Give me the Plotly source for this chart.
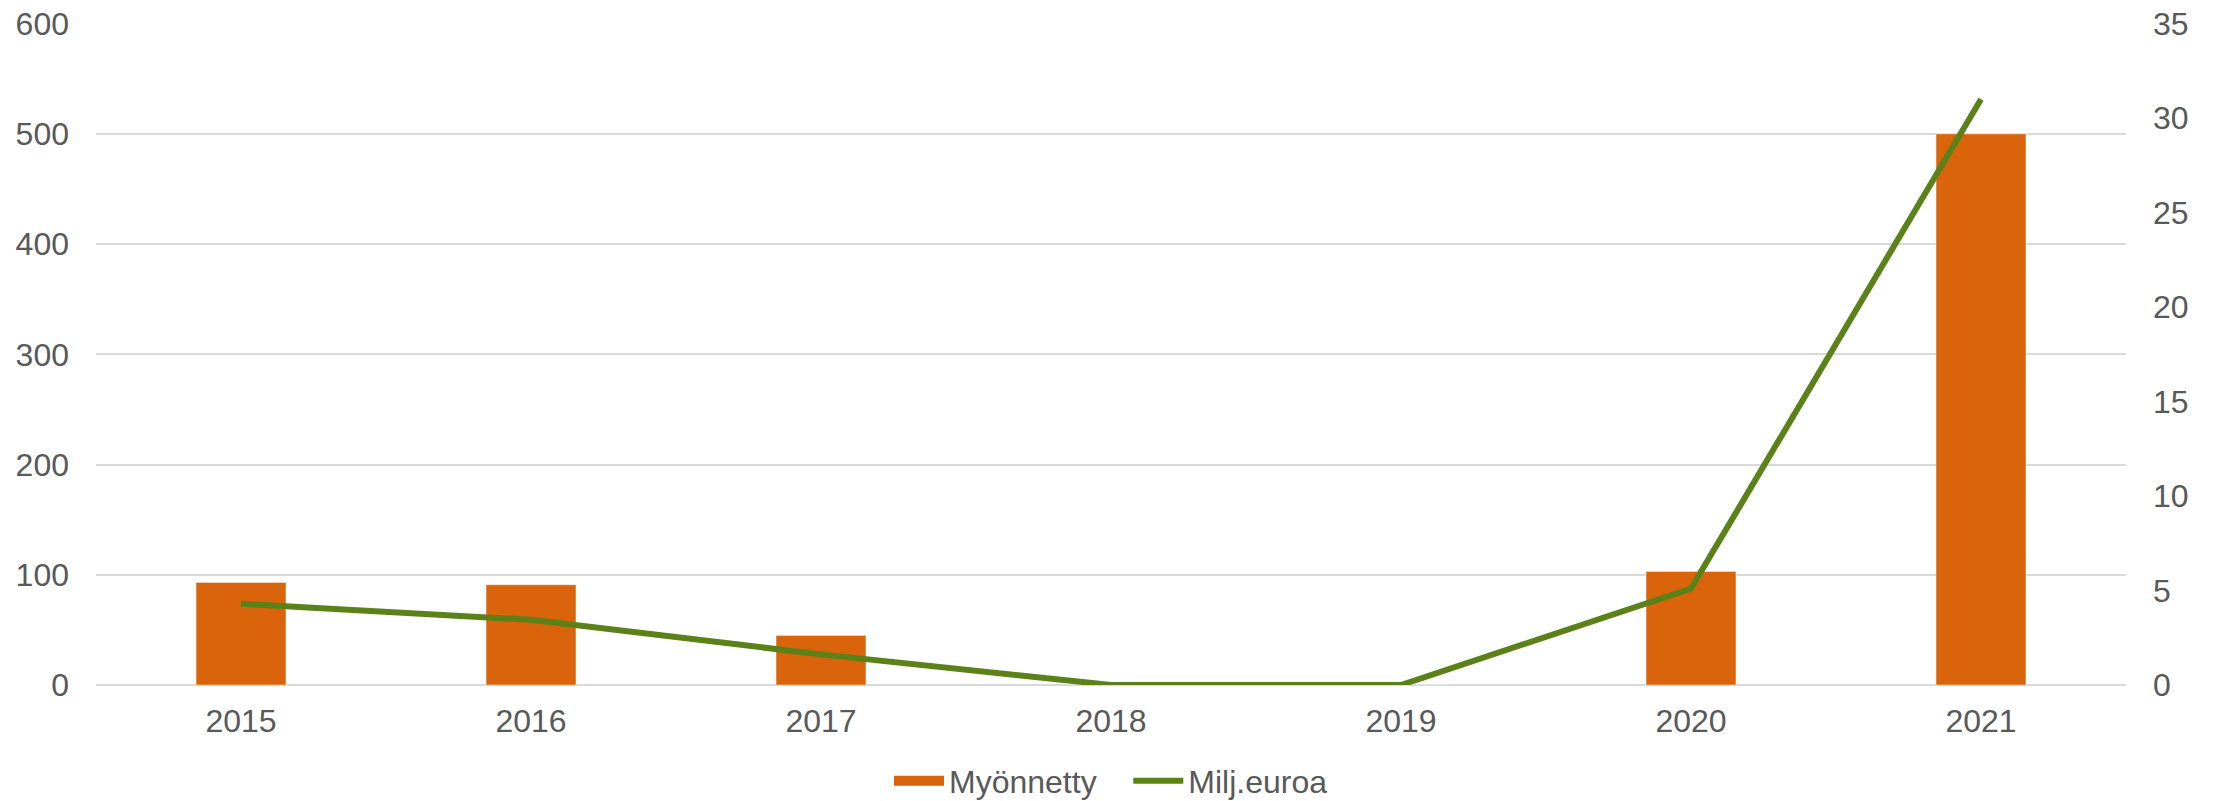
import plotly.graph_objects as go

years = ["2015", "2016", "2017", "2018", "2019", "2020", "2021"]
myonnetty = [93, 91, 45, 0, 0, 103, 500]
milj_euroa = [4.3, 3.45, 1.62, 0, 0, 5.1, 31.0]

TEXT = "#595959"
GRID = "#D9D9D9"
ORANGE = "#D9640C"
GREEN = "#5B8219"
FONT = "Liberation Sans, Arial, sans-serif"
FS = 32

fig = go.Figure()
fig.add_trace(go.Bar(
    x=years, y=myonnetty, name="Myönnetty", showlegend=False,
    marker=dict(color=ORANGE, line=dict(color="rgba(255,255,255,0.4)", width=1)),
    width=0.31, yaxis="y",
))
# legend swatch for the bar series (wide rectangle like the reference)
fig.add_trace(go.Scatter(
    x=[None], y=[None], name="Myönnetty\u00a0\u00a0\u00a0", mode="lines",
    line=dict(color=ORANGE, width=16), yaxis="y",
))
fig.add_trace(go.Scatter(
    x=years, y=milj_euroa, name="Milj.euroa", mode="lines",
    line=dict(color=GREEN, width=6), yaxis="y2",
))

top = 600.6
fig.update_layout(
    width=2221, height=801,
    margin=dict(l=96, r=95, t=23, b=116, autoexpand=False),
    paper_bgcolor="white", plot_bgcolor="white",
    font=dict(family=FONT, size=FS, color=TEXT),
    xaxis=dict(type="category", range=[-0.5, 6.5], showgrid=False, showline=False,
               ticks="", ticklabelstandoff=14, tickfont=dict(size=FS, color=TEXT)),
    yaxis=dict(range=[0, top], tickvals=[0, 100, 200, 300, 400, 500, 600],
               showgrid=True, gridcolor=GRID, gridwidth=2,
               zeroline=True, zerolinecolor=GRID, zerolinewidth=2, showline=False,
               ticks="", ticklabelstandoff=26, tickfont=dict(size=FS, color=TEXT)),
    yaxis2=dict(range=[0, 35 * top / 600], tickvals=[0, 5, 10, 15, 20, 25, 30, 35],
                overlaying="y", side="right", showgrid=False,
                zeroline=False, showline=False, ticks="", ticklabelstandoff=26,
                tickfont=dict(size=FS, color=TEXT)),
    legend=dict(orientation="h", x=0.5, xanchor="center", xref="paper",
                y=0.025, yanchor="middle", yref="container",
                font=dict(size=FS, color=TEXT), itemwidth=50, traceorder="normal",
                tracegroupgap=0, borderwidth=0),
    showlegend=True,
)

fig.write_html("out.html")
